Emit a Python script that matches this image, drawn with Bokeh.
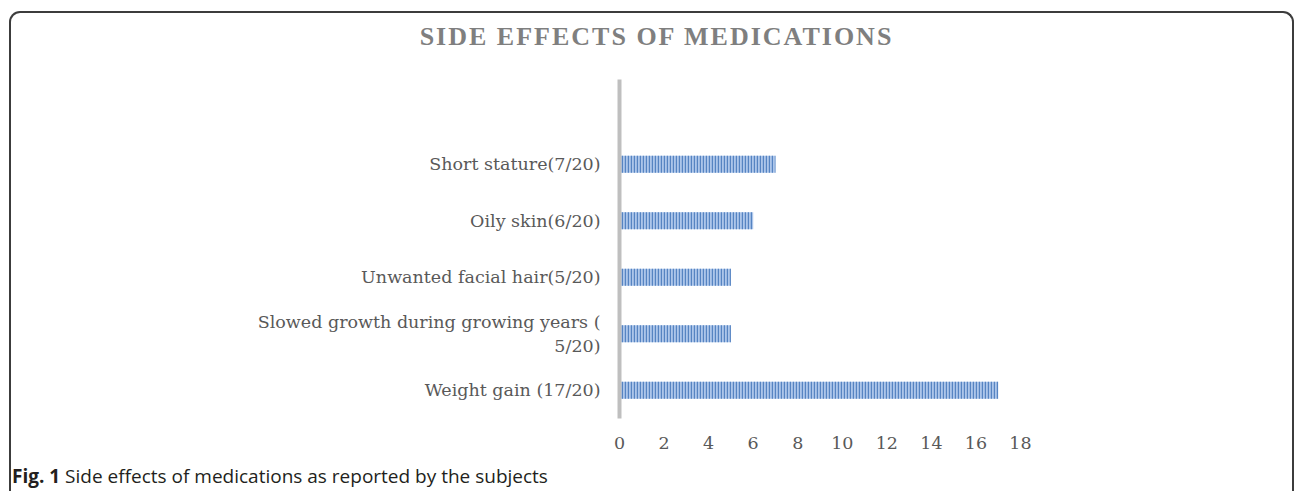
from bokeh.plotting import figure
from bokeh.models import Range1d, FixedTicker, ColumnDataSource, Div
from bokeh.layouts import column
from bokeh.embed import file_html
from bokeh.resources import INLINE

categories = ["Weight gain (17/20)",
              "Slowed growth during growing years (\n5/20)",
              "Unwanted facial hair(5/20)",
              "Oily skin(6/20)",
              "Short stature(7/20)"]
values = [17, 5, 5, 6, 7]
x_ticks = [0, 2, 4, 6, 8, 10, 12, 14, 16, 18]
title_text = "SIDE EFFECTS OF MEDICATIONS"
caption_bold = "Fig. 1"
caption_text = "Side effects of medications as reported by the subjects"

positions = list(range(len(categories)))
src = ColumnDataSource(dict(y=positions, v=values, cat=categories))

W, H = 1281, 409
p = figure(width=W, height=H, output_backend="svg", toolbar_location=None,
           x_range=Range1d(0, 18), y_range=Range1d(-0.5, 5.5),
           min_border_left=608, min_border_right=272,
           min_border_top=26, min_border_bottom=44)
p.outline_line_color = None
p.grid.visible = False
p.background_fill_color = "white"
p.border_fill_color = "white"

p.hbar(y="y", right="v", left=0, height=0.3, source=src,
       fill_color="#adc6ea", line_color=None,
       hatch_pattern="vertical_line", hatch_color="#5684c2",
       hatch_scale=3, hatch_weight=1.4)

# x axis
xa = p.xaxis[0]
xa.ticker = FixedTicker(ticks=x_ticks)
xa.axis_line_color = None
xa.major_tick_line_color = None
xa.minor_tick_line_color = None
xa.major_label_text_font = "DejaVu Serif"
xa.major_label_text_font_size = "17.5px"
xa.major_label_text_color = "#595959"
xa.major_label_standoff = 12

# y axis
ya = p.yaxis[0]
ya.ticker = FixedTicker(ticks=positions)
ya.major_label_overrides = {i: c for i, c in zip(positions, categories)}
ya.axis_line_color = "#bfbfbf"
ya.axis_line_width = 4
ya.major_tick_line_color = None
ya.minor_tick_line_color = None
ya.major_label_text_font = "DejaVu Serif"
ya.major_label_text_font_size = "17.5px"
ya.major_label_text_color = "#595959"
ya.major_label_standoff = 13

title = Div(text=(f"<div style='width:{W}px; box-sizing:border-box; text-align:center; "
                  f"padding-left:10px; padding-top:9px; letter-spacing:2px; "
                  f"white-space:nowrap; line-height:30px'>{title_text}</div>"),
            width=W, height=40, margin=0,
            styles={"font-family": "'Liberation Serif'", "font-size": "26px",
                    "font-weight": "bold", "color": "#7f7f7f",
                    "line-height": "30px"})

cap = Div(text=(f"<div style='position:relative; left:1px; top:2px; white-space:nowrap'>"
                f"<b>{caption_bold}</b> {caption_text}</div>"),
          width=W, height=29, margin=0,
          styles={"font-family": "'Open Sans'", "font-size": "19px",
                  "color": "#231f20", "line-height": "24px"})

layout = column(title, p, cap, spacing=0, width=W, sizing_mode="fixed")
layout.styles = {"border": "2px solid #3c3c3c", "border-bottom": "0px",
                 "border-radius": "11px 11px 0 0", "margin": "11px 0 0 9px",
                 "background": "white", "width": f"{W}px",
                 "box-sizing": "content-box"}

open("out.html", "w").write(file_html(layout, INLINE))
